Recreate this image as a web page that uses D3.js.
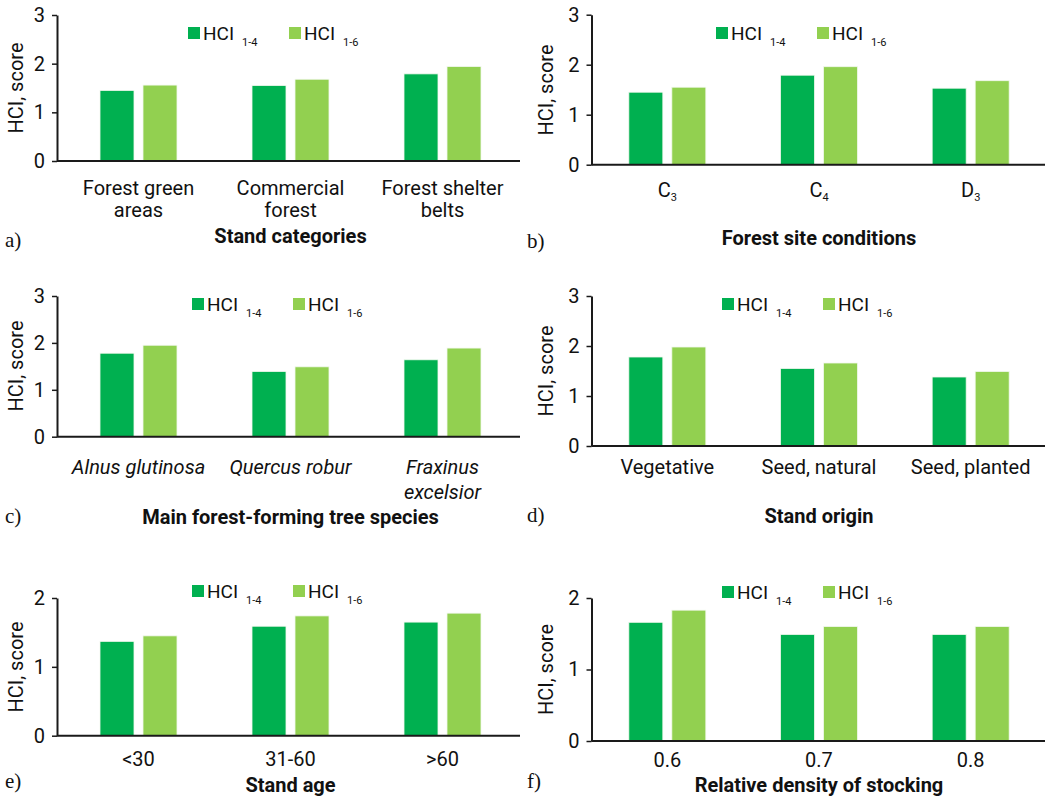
<!DOCTYPE html>
<html>
<head>
<meta charset="utf-8">
<script src="https://cdn.jsdelivr.net/npm/d3@7"></script>
<style>
  body { margin: 0; background: #fff; }
  svg { display: block; }
  text { font-family: Roboto, "Noto Sans", sans-serif; fill: #111; }
  text.panel-letter { font-family: "Liberation Serif", "DejaVu Serif", serif; }
</style>
</head>
<body>
<svg id="chart" width="1051" height="801"></svg>
<script>
// Series: habitat condition index on two scales
const seriesSubs = ["1-4", "1-6"];
const seriesColors = ["#00b050", "#92d050"];

// a) stand categories
const standCategories = ["Forest green|areas", "Commercial|forest", "Forest shelter|belts"];
const standHci14 = [1.45, 1.55, 1.79];
const standHci16 = [1.56, 1.68, 1.94];

// b) forest site conditions ("_" marks a subscript)
const siteConditions = ["C_3", "C_4", "D_3"];
const siteHci14 = [1.45, 1.79, 1.53];
const siteHci16 = [1.55, 1.96, 1.68];

// c) main forest-forming tree species
const treeSpecies = ["Alnus glutinosa", "Quercus robur", "Fraxinus|excelsior"];
const speciesHci14 = [1.78, 1.39, 1.64];
const speciesHci16 = [1.95, 1.49, 1.89];

// d) stand origin
const standOrigins = ["Vegetative", "Seed, natural", "Seed, planted"];
const originHci14 = [1.78, 1.55, 1.38];
const originHci16 = [1.98, 1.66, 1.49];

// e) stand age
const ageClasses = ["<30", "31-60", ">60"];
const ageHci14 = [1.37, 1.59, 1.65];
const ageHci16 = [1.45, 1.74, 1.78];

// f) relative density of stocking
const densityClasses = ["0.6", "0.7", "0.8"];
const densityHci14 = [1.66, 1.49, 1.49];
const densityHci16 = [1.83, 1.60, 1.60];

const yTicksWide = [0, 1, 2, 3];
const yTicksNarrow = [0, 1, 2];

const panels = [
  { letter: "a)", title: "Stand categories", cats: standCategories, vals: [standHci14, standHci16], ticks: yTicksWide,
    axisX: 57, axisEnd: 520, band: [62.5, 518.5], yTop: 15, yBottom: 161,
    legend: [188, 27], tickY: 195, lineGap: 22, titleY: 243, letterY: 247, italic: false, yTitle: [16, 88] },
  { letter: "b)", title: "Forest site conditions", cats: siteConditions, vals: [siteHci14, siteHci16], ticks: yTicksWide,
    axisX: 591.5, axisEnd: 1045, band: [591.5, 1046.5], yTop: 14.7, yBottom: 164.7,
    legend: [716, 27], tickY: 197, lineGap: 22, titleY: 245, letterY: 248, italic: false, yTitle: [546, 90] },
  { letter: "c)", title: "Main forest-forming tree species", cats: treeSpecies, vals: [speciesHci14, speciesHci16], ticks: yTicksWide,
    axisX: 57, axisEnd: 520, band: [62.5, 518.5], yTop: 296, yBottom: 436.7,
    legend: [192, 298], tickY: 474, lineGap: 25, titleY: 524, letterY: 523, italic: true, yTitle: [16, 366] },
  { letter: "d)", title: "Stand origin", cats: standOrigins, vals: [originHci14, originHci16], ticks: yTicksWide,
    axisX: 591.5, axisEnd: 1045, band: [591.5, 1046.5], yTop: 296, yBottom: 446,
    legend: [722, 298], tickY: 474, lineGap: 22, titleY: 523, letterY: 522, italic: false, yTitle: [546, 371] },
  { letter: "e)", title: "Stand age", cats: ageClasses, vals: [ageHci14, ageHci16], ticks: yTicksNarrow,
    axisX: 57, axisEnd: 520, band: [62.5, 518.5], yTop: 598, yBottom: 735.7,
    legend: [192, 585], tickY: 766, lineGap: 22, titleY: 792, letterY: 788, italic: false, yTitle: [16, 667] },
  { letter: "f)", title: "Relative density of stocking", cats: densityClasses, vals: [densityHci14, densityHci16], ticks: yTicksNarrow,
    axisX: 591.5, axisEnd: 1045, band: [591.5, 1046.5], yTop: 598, yBottom: 741,
    legend: [722, 586], tickY: 767, lineGap: 22, titleY: 792, letterY: 788, italic: false, yTitle: [546, 669.5] }
];

const svg = d3.select("#chart");
const groupWidth = 77;   // width of the pair of bars in each category
const barPadding = 0.2093;

function writeLabel(textSel, str) {
  // "C_3" -> C with subscript 3
  const parts = str.split("_");
  textSel.append("tspan").text(parts[0]);
  if (parts.length > 1) {
    textSel.append("tspan").attr("font-size", 11).attr("dy", 4).text(parts[1]);
  }
}

panels.forEach(p => {
  const g = svg.append("g");
  const idx = p.cats.map((c, i) => i);
  const x = d3.scaleBand().domain(idx).range(p.band).padding(0);
  const bw = x.bandwidth();
  const x1 = d3.scaleBand().domain([0, 1])
    .range([(bw - groupWidth) / 2, (bw + groupWidth) / 2])
    .paddingInner(barPadding).paddingOuter(0);
  const yMax = p.ticks[p.ticks.length - 1];
  const y = d3.scaleLinear().domain([0, yMax]).range([p.yBottom, p.yTop]);

  // bars
  const cat = g.selectAll("g.cat").data(idx).join("g")
    .attr("class", "cat")
    .attr("transform", i => `translate(${x(i)},0)`);
  cat.selectAll("rect").data(i => [0, 1].map(s => ({ s, v: p.vals[s][i] }))).join("rect")
    .attr("x", d => x1(d.s))
    .attr("width", x1.bandwidth())
    .attr("y", d => y(d.v))
    .attr("height", d => y(0) - y(d.v))
    .attr("fill", d => seriesColors[d.s])
    .attr("stroke", "#f2f8ee")
    .attr("stroke-width", 0.8);

  // y axis
  const yAxis = g.append("g")
    .attr("transform", `translate(${p.axisX},0)`)
    .call(d3.axisLeft(y).tickValues(p.ticks).tickFormat(d3.format("d")).tickSize(5).tickSizeOuter(0).tickPadding(7));
  yAxis.select(".domain").attr("stroke", "#1a1a1a").attr("stroke-width", 2);
  yAxis.selectAll(".tick line").attr("stroke", "#1a1a1a").attr("stroke-width", 1.5);
  yAxis.selectAll(".tick text").attr("font-size", 20).attr("fill", "#111");

  // x baseline
  g.append("line")
    .attr("x1", p.axisX).attr("x2", p.axisEnd)
    .attr("y1", y(0)).attr("y2", y(0))
    .attr("stroke", "#1a1a1a").attr("stroke-width", 2);

  // category labels
  idx.forEach(i => {
    const lines = p.cats[i].split("|");
    lines.forEach((ln, k) => {
      const t = g.append("text")
        .attr("x", x(i) + bw / 2)
        .attr("y", p.tickY + k * p.lineGap)
        .attr("text-anchor", "middle")
        .attr("font-size", 20)
        .attr("font-style", p.italic ? "italic" : "normal");
      writeLabel(t, ln);
    });
  });

  // y-axis title
  g.append("text")
    .attr("transform", `translate(${p.yTitle[0]},${p.yTitle[1]}) rotate(-90)`)
    .attr("text-anchor", "middle")
    .attr("dominant-baseline", "central")
    .attr("font-size", 20)
    .text("HCI, score");

  // x-axis title
  g.append("text")
    .attr("x", (p.band[0] + p.band[1]) / 2)
    .attr("y", p.titleY)
    .attr("text-anchor", "middle")
    .attr("font-size", 20)
    .attr("font-weight", "bold")
    .text(p.title);

  // panel letter
  g.append("text")
    .attr("class", "panel-letter")
    .attr("x", p.axisX < 300 ? 5 : 527)
    .attr("y", p.letterY)
    .attr("font-size", 21)
    .text(p.letter);

  // legend
  const lg = g.append("g").attr("transform", `translate(${p.legend[0]},${p.legend[1]})`);
  seriesSubs.forEach((sub, s) => {
    const item = lg.append("g").attr("transform", `translate(${s * 101},0)`);
    item.append("rect").attr("width", 12).attr("height", 12).attr("fill", seriesColors[s]);
    const t = item.append("text").attr("x", 15).attr("y", 12.5).attr("font-size", 19);
    t.append("tspan").text("HCI");
    t.append("tspan").attr("x", 54).attr("dy", 6).attr("font-size", 11).text(sub);
  });
});
</script>
</body>
</html>
